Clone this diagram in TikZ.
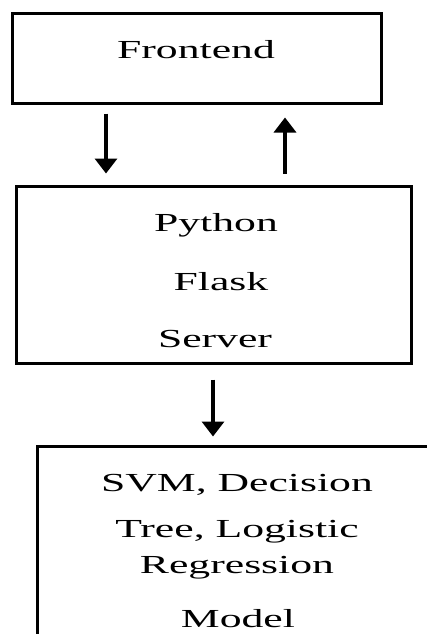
\documentclass[tikz,border=0pt]{standalone}
\usepackage{fontspec}
\setmainfont{Liberation Serif}
\usetikzlibrary{arrows.meta}
\tikzset{
  box/.style={draw=black, line width=3pt, inner sep=0pt},
  lbl/.style={inner sep=0pt, anchor=base, font=\fontsize{26}{30}\selectfont},
  arr/.style={line width=3.5pt, -{Triangle[width=22pt,length=15pt]}},
}
\newcommand{\wide}[1]{\scalebox{1.68}[1]{#1}}
\begin{document}
\begin{tikzpicture}[x=1pt,y=-1pt]
\clip (0,0) rectangle (427,634);
\fill[white] (0,0) rectangle (427,634);
% boxes
\node[box, minimum width=369pt, minimum height=89.5pt] (front) at (196.5,58.75) {};
\node[box, minimum width=395.5pt, minimum height=177pt] (server) at (213.75,274.5) {};
\node[box, minimum width=450pt, minimum height=300pt] (model) at (262,596) {};
% texts
\node[lbl] (t1) at (196,59) {\wide{Frontend}};
\node[lbl] (t2) at (216,231) {\wide{Python}};
\node[lbl] (t3) at (221,290) {\wide{Flask}};
\node[lbl] (t4) at (215,347) {\wide{Server}};
\node[lbl] (t5) at (237,491) {\wide{SVM, Decision}};
\node[lbl] (t6) at (237,537) {\wide{Tree, Logistic}};
\node[lbl] (t7) at (237,573) {\wide{Regression}};
\node[lbl] (t8) at (238,627) {\wide{Model}};
% connectors
\coordinate (c1) at (106,0);
\coordinate (c2) at (285,0);
\coordinate (c3) at (213,0);
\draw[arr, shorten <=8.5pt, shorten >=11pt] (front.south -| c1) -- (server.north -| c1);
\draw[arr, shorten <=11pt, shorten >=12.5pt] (server.north -| c2) -- (front.south -| c2);
\draw[arr, shorten <=15pt, shorten >=8pt] (server.south -| c3) -- (model.north -| c3);
\end{tikzpicture}
\end{document}
